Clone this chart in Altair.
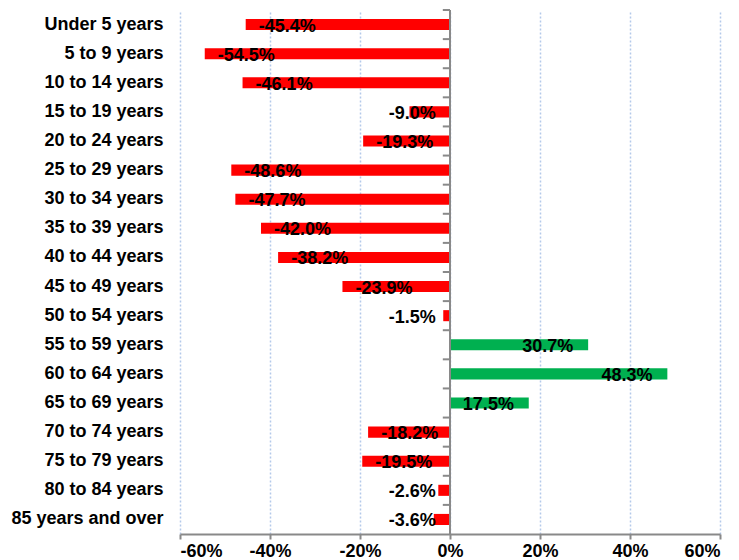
import altair as alt
import pandas as pd

categories = ["Under 5 years", "5 to 9 years", "10 to 14 years", "15 to 19 years",
              "20 to 24 years", "25 to 29 years", "30 to 34 years", "35 to 39 years",
              "40 to 44 years", "45 to 49 years", "50 to 54 years", "55 to 59 years",
              "60 to 64 years", "65 to 69 years", "70 to 74 years", "75 to 79 years",
              "80 to 84 years", "85 years and over"]
values = [-45.4, -54.5, -46.1, -9.0, -19.3, -48.6, -47.7, -42.0, -38.2, -23.9,
          -1.5, 30.7, 48.3, 17.5, -18.2, -19.5, -2.6, -3.6]
x_ticks = [-60, -40, -20, 0, 20, 40, 60]

df = pd.DataFrame({"cat": categories, "v": values})

FONT = "Liberation Sans"
FS = 18
yscale = alt.Scale(domain=categories, paddingInner=0, paddingOuter=0)
xscale = alt.Scale(domain=[-60, 60], nice=False)

base = alt.Chart(df)

bars = base.mark_bar(height=alt.RelativeBandSize(0.38)).encode(
    y=alt.Y("cat:N", scale=yscale, sort=categories, title=None,
            axis=alt.Axis(ticks=False, domain=False, labelFontSize=FS, labelFontWeight="bold",
                          labelColor="black", labelFont=FONT, labelPadding=17, grid=False)),
    x=alt.X("v:Q", scale=xscale, title=None,
            axis=alt.Axis(values=x_ticks, labelExpr="datum.value + '%'", labelFontSize=FS,
                          labelFontWeight="bold", labelColor="black", labelFont=FONT,
                          domainColor="#898989", domainWidth=2, tickColor="#898989",
                          tickWidth=2, tickSize=5, labelPadding=3,
                          grid=True, gridColor="#B4C9EA", gridDash=[2, 2], gridWidth=1.5)),
    x2=alt.datum(0),
    color=alt.condition("datum.v < 0", alt.value("#FF0000"), alt.value("#00B050")),
)

zero = alt.Chart(pd.DataFrame({"z": [0]})).mark_rule(color="#898989", strokeWidth=2).encode(
    x=alt.X("z:Q", scale=xscale)
)

ticks = base.mark_rule(color="#898989", strokeWidth=2).encode(
    y=alt.Y("cat:N", scale=yscale, sort=categories, bandPosition=0),
    x=alt.datum(0),
    x2=alt.datum(-1.6),
)

label_txt = "replace(format(datum.v, '.1f'), '\u2212', '-') + '%'"

neg_labels = base.transform_filter("datum.v < 0").transform_calculate(
    lx="min(datum.v + 2.9, -13.6)",
    txt=label_txt,
).mark_text(align="left", baseline="middle", dy=2, fontSize=FS, fontWeight="bold",
            font=FONT, color="black").encode(
    y=alt.Y("cat:N", scale=yscale, sort=categories),
    x=alt.X("lx:Q", scale=xscale),
    text="txt:N",
)

pos_labels = base.transform_filter("datum.v >= 0").transform_calculate(
    lx="datum.v - 3.3",
    txt=label_txt,
).mark_text(align="right", baseline="middle", dy=2, fontSize=FS, fontWeight="bold",
            font=FONT, color="black").encode(
    y=alt.Y("cat:N", scale=yscale, sort=categories),
    x=alt.X("lx:Q", scale=xscale),
    text="txt:N",
)

chart = alt.layer(bars, zero, ticks, neg_labels, pos_labels).properties(
    width=540, height=524,
    autosize=alt.AutoSizeParams(type="none"),
    padding={"left": 172, "top": 2, "right": 11, "bottom": 26},
).configure_view(stroke=None)

chart.save("out.html", embed_options={"renderer": "svg", "actions": False})
